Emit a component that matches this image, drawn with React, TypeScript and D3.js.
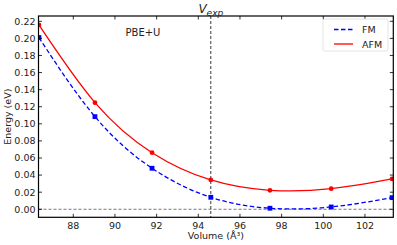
import * as d3 from "d3"

const volumes = [86.35, 89.04, 91.78, 94.6, 97.44, 100.38, 103.3]
const fmEnergy = [0.201, 0.1084, 0.048, 0.014, 0.0012, 0.0027, 0.0136]
const afmEnergy = [0.2157, 0.1248, 0.0662, 0.0343, 0.0222, 0.0241, 0.0355]
const xTicks = [88, 90, 92, 94, 96, 98, 100, 102]
const yTicks = [0, 0.02, 0.04, 0.06, 0.08, 0.1, 0.12, 0.14, 0.16, 0.18, 0.2, 0.22]
const vExp = 94.6

const W = 397
const H = 245
const M = { left: 38.5, right: 3.7, top: 16, bottom: 27.7 }
const FONT = "DejaVu Sans, sans-serif"

export default function App() {
  const x = d3.scaleLinear().domain([86.33, 103.36]).range([M.left, W - M.right])
  const y = d3.scaleLinear().domain([-0.0094, 0.2262]).range([H - M.bottom, M.top])

  const line = d3
    .line<[number, number]>()
    .x((d) => x(d[0]))
    .y((d) => y(d[1]))
    .curve(d3.curveNatural)

  const fm = volumes.map((v, i) => [v, fmEnergy[i]] as [number, number])
  const afm = volumes.map((v, i) => [v, afmEnergy[i]] as [number, number])

  const x0 = M.left
  const x1 = W - M.right
  const y0 = H - M.bottom
  const y1 = M.top

  return (
    <svg
      width={W}
      height={H}
      style={{ position: "absolute", left: 0, top: 0, background: "white" }}
      fontFamily={FONT}
    >
      <defs>
        <clipPath id="plot">
          <rect x={x0} y={y1} width={x1 - x0} height={y0 - y1} />
        </clipPath>
      </defs>

      {/* reference lines */}
      <line x1={x0} x2={x1} y1={y(0)} y2={y(0)} stroke="#555" strokeWidth={0.8} strokeDasharray="3,2" />
      <line x1={x(vExp)} x2={x(vExp)} y1={y1} y2={y0} stroke="#222" strokeWidth={0.9} strokeDasharray="3,2" />

      <g clipPath="url(#plot)">
        <path d={line(afm) ?? ""} fill="none" stroke="#ff0000" strokeWidth={1.3} />
        <path d={line(fm) ?? ""} fill="none" stroke="#0000ff" strokeWidth={1.3} strokeDasharray="4.5,2.5" />
        {afm.map((d, i) => (
          <circle key={"a" + i} cx={x(d[0])} cy={y(d[1])} r={2.4} fill="#ff0000" />
        ))}
        {fm.map((d, i) => (
          <rect key={"f" + i} x={x(d[0]) - 2.4} y={y(d[1]) - 2.4} width={4.8} height={4.8} fill="#0000ff" />
        ))}
      </g>

      {/* ticks, inward on all sides */}
      {xTicks.map((t) => (
        <g key={"x" + t}>
          <line x1={x(t)} x2={x(t)} y1={y0} y2={y0 - 3.5} stroke="black" strokeWidth={0.8} />
          <line x1={x(t)} x2={x(t)} y1={y1} y2={y1 + 3.5} stroke="black" strokeWidth={0.8} />
          <text x={x(t)} y={y0 + 12} textAnchor="middle" fontSize={9.5} fill="#222">
            {t}
          </text>
        </g>
      ))}
      {yTicks.map((t) => (
        <g key={"y" + t}>
          <line x1={x0} x2={x0 + 3.5} y1={y(t)} y2={y(t)} stroke="black" strokeWidth={0.8} />
          <line x1={x1} x2={x1 - 3.5} y1={y(t)} y2={y(t)} stroke="black" strokeWidth={0.8} />
          <text x={x0 - 3} y={y(t) + 3.4} textAnchor="end" fontSize={9.5} fill="#222">
            {t.toFixed(2)}
          </text>
        </g>
      ))}

      <rect x={x0} y={y1} width={x1 - x0} height={y0 - y1} fill="none" stroke="black" strokeWidth={1.2} />

      {/* labels */}
      <text x={(x0 + x1) / 2} y={239} textAnchor="middle" fontSize={9.5} fill="#222">
        Volume (Å³)
      </text>
      <text
        transform={`translate(11, ${(y0 + y1) / 2}) rotate(-90)`}
        textAnchor="middle"
        fontSize={9.5}
        fill="#222"
      >
        Energy (eV)
      </text>
      <text x={x(vExp)} y={13} textAnchor="middle" fontStyle="italic" fill="#222">
        <tspan fontSize={12}>V</tspan>
        <tspan fontSize={9} dy={3}>exp</tspan>
      </text>
      <text x={143} y={36} textAnchor="middle" fontSize={10} fill="#222">
        PBE+U
      </text>

      {/* legend */}
      <rect x={323} y={19} width={65} height={32} rx={2} fill="white" stroke="#ddd" strokeWidth={0.8} />
      <line x1={334} x2={353} y1={29.5} y2={29.5} stroke="#0000ff" strokeWidth={1.3} strokeDasharray="4.5,2.5" />
      <line x1={334} x2={353} y1={44} y2={44} stroke="#ff0000" strokeWidth={1.3} />
      <text x={362} y={33} fontSize={9.5} fill="#222">FM</text>
      <text x={362} y={47.5} fontSize={9.5} fill="#222">AFM</text>
    </svg>
  )
}
